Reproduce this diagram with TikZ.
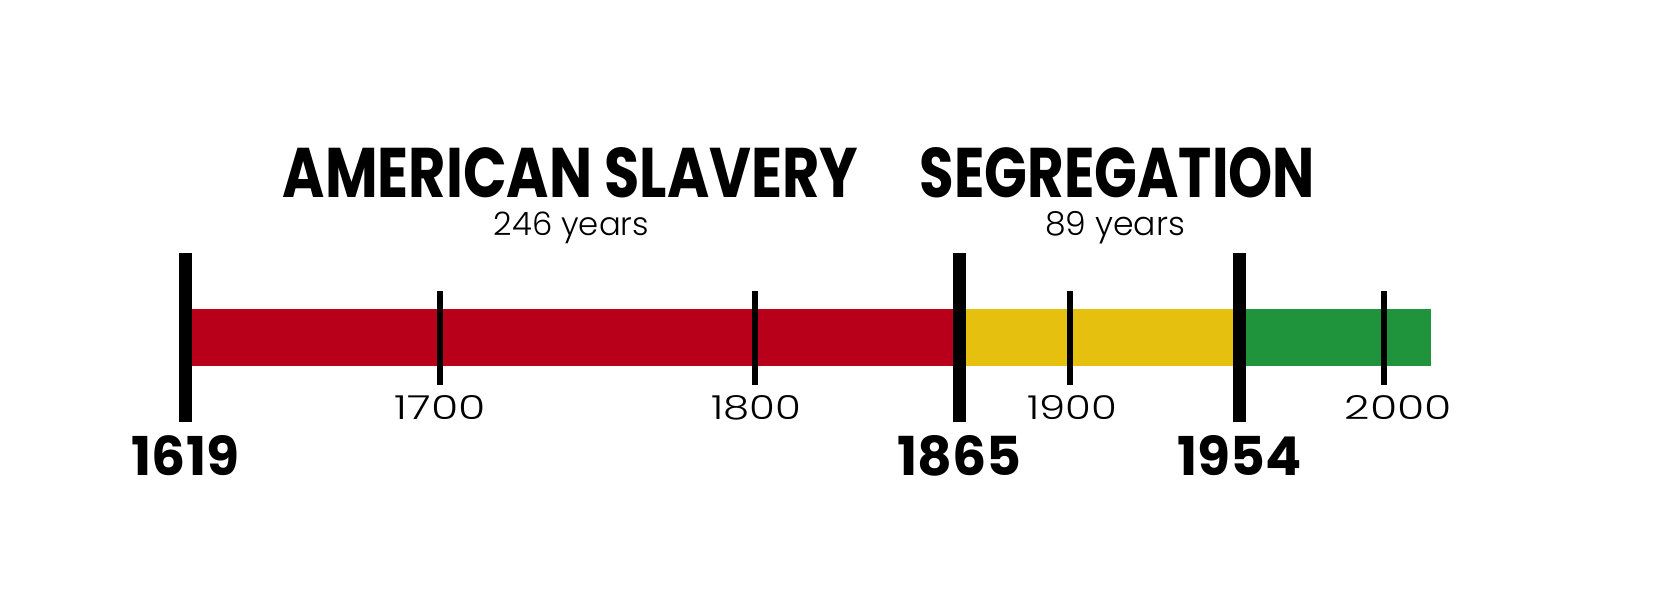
\documentclass[tikz,border=0pt]{standalone}
\usepackage{fontspec}
\newfontfamily\headfont{Poppins}
\newfontfamily\thinfont{Poppins Light}
\definecolor{slavered}{RGB}{185,0,26}
\definecolor{segyellow}{RGB}{230,192,14}
\definecolor{nowgreen}{RGB}{31,148,60}
\def\headline#1#2{\resizebox{#1cm}{1cm}{\headfont\bfseries #2}}
\def\bigyear#1{\resizebox{!}{0.8cm}{\headfont\bfseries #1}}
\def\smallyear#1#2{\resizebox{#1cm}{0.48cm}{\thinfont #2}}

\begin{document}
\begin{tikzpicture}[declare function={yx(\y)=3.71+(\y-1619)*0.06292;},
    lbl/.style={inner sep=0pt, anchor=base}]
			%%%%% START %%%%%
			\useasboundingbox (0,0) rectangle (33.34,11.92);
			
			\fill[slavered] ({yx(1619)}, 4.60) rectangle ({yx(1865)}, 5.74);
			\fill[segyellow] ({yx(1865)}, 4.60) rectangle ({yx(1954)}, 5.74);
			\fill[nowgreen] ({yx(1954)}, 4.60) rectangle ({yx(2015)}, 5.74);
			
			\foreach \yr/\w/\dx in {1700/1.82/0, 1800/1.80/0.03, 1900/1.80/0.05, 2000/2.14/0.28} {
				\draw[line width=0.12cm] ({yx(\yr)}, 4.22) -- ({yx(\yr)}, 6.10);
				\node[lbl] (y\yr) at ({yx(\yr)+\dx}, 3.54) {\smallyear{\w}{\yr}};
			}
			
			\foreach \yr in {1619,1865,1954} {
				\draw[line width=0.26cm] ({yx(\yr)}, 3.48) -- ({yx(\yr)}, 6.86);
				\node[lbl] (y\yr) at ({yx(\yr)}, 2.42) {\bigyear{\yr}};
			}
			
			\node[lbl] (slavery) at (11.41, 7.96) {\headline{11.5}{AMERICAN SLAVERY}};
			\node[lbl] (slaveryspan) at (11.43, 7.20) {\resizebox{3.1cm}{!}{\thinfont 246 years}};
			
			\node[lbl] (segregation) at (22.35, 7.96) {\headline{7.9}{SEGREGATION}};
			\node[lbl] (segspan) at (22.30, 7.20) {\resizebox{2.8cm}{!}{\thinfont 89 years}};
			%%%%% END %%%%%
		\end{tikzpicture}
\end{document}
